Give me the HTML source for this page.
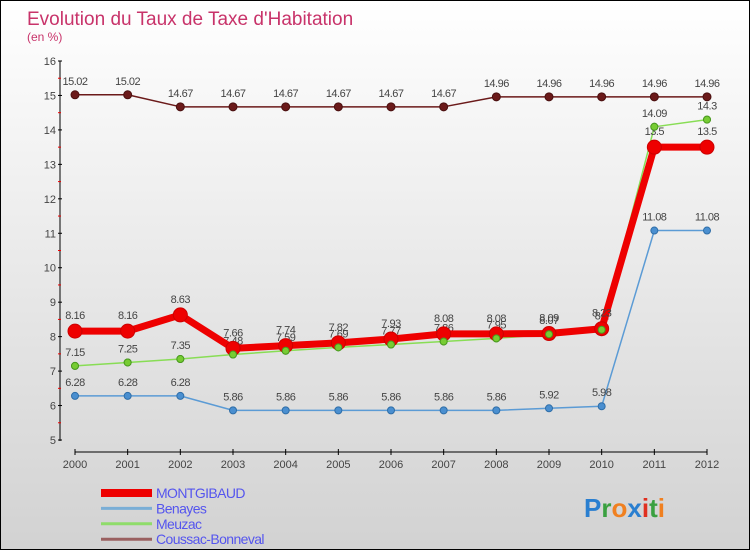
<!DOCTYPE html>
<html><head><meta charset="utf-8"><style>
html,body{margin:0;padding:0}
body{width:750px;height:550px;overflow:hidden;font-family:"Liberation Sans",sans-serif}
#wrap{position:relative;width:748px;height:548px;border:1px solid #000;background:linear-gradient(#ffffff,#d2d2d2)}
</style></head><body>
<div id="wrap">
<svg id="chart" width="748" height="548"></svg>
</div>
<script>
const years=["2000","2001","2002","2003","2004","2005","2006","2007","2008","2009","2010","2011","2012"];
const yTicks=[5,6,7,8,9,10,11,12,13,14,15,16];
const montgibaud=[8.16,8.16,8.63,7.66,7.74,7.82,7.93,8.08,8.08,8.09,8.23,13.5,13.5];
const benayes=[6.28,6.28,6.28,5.86,5.86,5.86,5.86,5.86,5.86,5.92,5.98,11.08,11.08];
const meuzac=[7.15,7.25,7.35,7.48,7.59,7.69,7.77,7.86,7.95,8.07,8.2,14.09,14.3];
const coussac=[15.02,15.02,14.67,14.67,14.67,14.67,14.67,14.67,14.96,14.96,14.96,14.96,14.96];
const NS="http://www.w3.org/2000/svg";
const svg=document.getElementById('chart');
function X(i){return 74+i*(706-74)/(years.length-1);}
function Y(v){return 439-(v-5)*(439-60)/11;}
function el(t,a,p){const e=document.createElementNS(NS,t);for(const k in a)e.setAttribute(k,a[k]);(p||svg).appendChild(e);return e;}
function txt(x,y,s,a,p){const e=el('text',Object.assign({x:x,y:y},a),p);e.textContent=s;return e;}
let t=txt(26,24,"Evolution du Taux de Taxe d'Habitation",{fill:'#c8336a','font-size':19});

t=txt(26,40,"(en %)",{fill:'#c8336a','font-size':12});

let g=el('g',{});
el('line',{x1:59,y1:60,x2:59,y2:440,stroke:'#000','stroke-width':1},g);
yTicks.forEach(v=>{el('line',{x1:57,y1:Y(v),x2:61,y2:Y(v),stroke:'#000'},g);
 const l=txt(55,Y(v)+4,String(v),{'text-anchor':'end','font-size':11,fill:'#444'},g);
 
 if(v<16)el('line',{x1:57,y1:Y(v+0.5),x2:60,y2:Y(v+0.5),stroke:'#e00'},g);});
g=el('g',{});
el('line',{x1:74,y1:451,x2:706,y2:451,stroke:'#000'},g);
years.forEach((y,i)=>{el('line',{x1:X(i),y1:448,x2:X(i),y2:454,stroke:'#000'},g);
 const l=txt(X(i),467,y,{'text-anchor':'middle','font-size':11,fill:'#444'},g);
 });
function series(name,data,color,w,r,dot,dotStroke,labelDy){
 const s=el('g',{});
 el('polyline',{points:data.map((v,i)=>X(i)+','+Y(v)).join(' '),fill:'none',stroke:color,'stroke-width':w,'stroke-linejoin':'round'},s);
 data.forEach((v,i)=>{const c=el('circle',{cx:X(i),cy:Y(v),r:r,fill:dot,stroke:dotStroke,'stroke-width':1},s);
  
  txt(X(i),Y(v)+labelDy,String(v),{'text-anchor':'middle','font-size':11,fill:'#444','letter-spacing':'-0.5'},s);});
}
series('coussac',coussac,'#6b1a1a',1.5,4,'#6b1a1a','#4a1010',-10);
series('benayes',benayes,'#5b9bd5',1.5,3.5,'#4a8fd0','#2f6ea8',-10);
series('meuzac',meuzac,'#88dd55',1.5,3.5,'#77cc33','#4a9a20',-10);
series('montgibaud',montgibaud,'#ee0000',7,7,'#ee0000','#cc0000',-12);
meuzac.forEach((v,i)=>{const c=el('circle',{cx:X(i),cy:Y(v),r:3.5,fill:'#77cc33',stroke:'#4a9a20'});
 });
const leg=[['MONTGIBAUD','#ee0000',8],['Benayes','#7aaed6',3],['Meuzac','#8fdc6a',3],['Coussac-Bonneval','#9a6060',3]];
leg.forEach((l,i)=>{const lg=el('g',{});
 const y=492+i*15.4;el('line',{x1:100,y1:y,x2:151,y2:y,stroke:l[1],'stroke-width':l[2]},lg);
 txt(155,y+5,l[0],{'font-size':14,fill:'#5555ee','letter-spacing':'-0.6'},lg);});
const lo=el('text',{x:583,y:516,'font-size':26,'font-weight':'bold'});

[['P','#2a7fd0'],['r','#3aa040'],['o','#f08020'],['x','#2a7fd0'],['i','#e03020'],['t','#3aa040'],['i','#f08020']].forEach(c=>{const s=el('tspan',{fill:c[1]},lo);s.textContent=c[0];});
</script>
</body></html>
